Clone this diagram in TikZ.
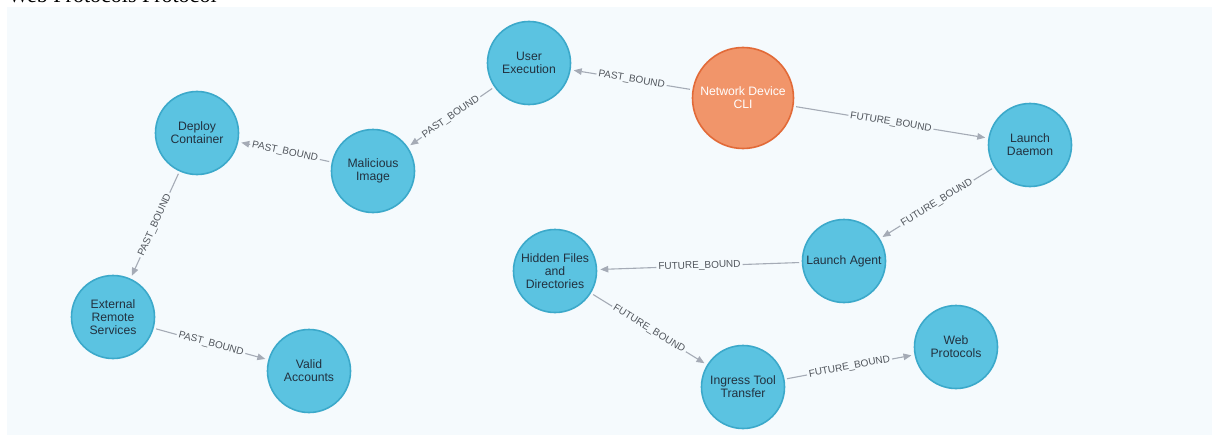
\documentclass[tikz,border=0pt]{standalone}
\usepackage{fontspec}
\setmainfont{Liberation Sans}
\newfontfamily\headfont{Liberation Serif}
\usetikzlibrary{arrows.meta}

\definecolor{panel}{HTML}{F5FAFD}
\definecolor{nodeblue}{HTML}{5BC3E1}
\definecolor{nodeblueline}{HTML}{3CA9CA}
\definecolor{nodeorange}{HTML}{F1956A}
\definecolor{nodeorangeline}{HTML}{E26A38}
\definecolor{edgegray}{HTML}{A5ABB6}
\definecolor{labelgray}{HTML}{50555C}
\definecolor{nodetext}{HTML}{22313F}

\begin{document}
\begin{tikzpicture}[x=1pt,y=-1pt,
  technique/.style={circle, draw=nodeblueline, line width=1.6pt, fill=nodeblue,
    minimum size=83pt, inner sep=0pt, align=center, text=nodetext,
    font=\fontsize{12.2}{13}\selectfont},
  origin/.style={technique, draw=nodeorangeline, fill=nodeorange,
    minimum size=101pt, text=white},
  rel/.style={draw=edgegray, line width=1.1pt,
    -{Triangle[length=8pt,width=6.5pt]}, shorten <=2.5pt, shorten >=3pt},
  rellabel/.style={midway, sloped, fill=panel, inner sep=2pt, text=labelgray,
    font=\fontsize{10}{10}\selectfont}]

\useasboundingbox (0,0) rectangle (1212,444);
\fill[white] (0,0) rectangle (1212,444);

% heading line above the panel, only its lowest strip shows
\begin{scope}
  \clip (0,0) rectangle (1212,4);
  \node[anchor=base west, inner sep=0pt, text=black,
        font=\headfont\fontsize{22}{22}\selectfont] (heading) at (8,2.5)
        {Web Protocols Protocol};
\end{scope}

\fill[panel] (7,7) rectangle (1212,435);

% technique nodes
\node[origin]    (cli)     at (743,98)  {Network Device\\CLI};
\node[technique] (userexec) at (529,63) {User\\Execution};
\node[technique] (malimg)  at (373,171) {Malicious\\Image};
\node[technique] (deploy)  at (197,133) {Deploy\\Container};
\node[technique] (extrem)  at (113,317) {External\\Remote\\Services};
\node[technique] (valid)   at (309,371) {Valid\\Accounts};
\node[technique] (daemon)  at (1030,145) {Launch\\Daemon};
\node[technique] (agent)   at (844,261) {Launch Agent};
\node[technique] (hidden)  at (555,271) {Hidden Files\\and\\Directories};
\node[technique] (ingress) at (743,387) {Ingress Tool\\Transfer};
\node[technique] (webprot) at (956,347) {Web\\Protocols};

% relationships
\draw[rel] (cli) -- node[rellabel] {PAST\_BOUND} (userexec);
\draw[rel] (userexec) -- node[rellabel] {PAST\_BOUND} (malimg);
\draw[rel] (malimg) -- node[rellabel] {PAST\_BOUND} (deploy);
\draw[rel] (deploy) -- node[rellabel] {PAST\_BOUND} (extrem);
\draw[rel] (extrem) -- node[rellabel] {PAST\_BOUND} (valid);
\draw[rel] (cli) -- node[rellabel] {FUTURE\_BOUND} (daemon);
\draw[rel] (daemon) -- node[rellabel] {FUTURE\_BOUND} (agent);
\draw[rel] (agent) -- node[rellabel] {FUTURE\_BOUND} (hidden);
\draw[rel] (hidden) -- node[rellabel] {FUTURE\_BOUND} (ingress);
\draw[rel] (ingress) -- node[rellabel] {FUTURE\_BOUND} (webprot);
\end{tikzpicture}
\end{document}
